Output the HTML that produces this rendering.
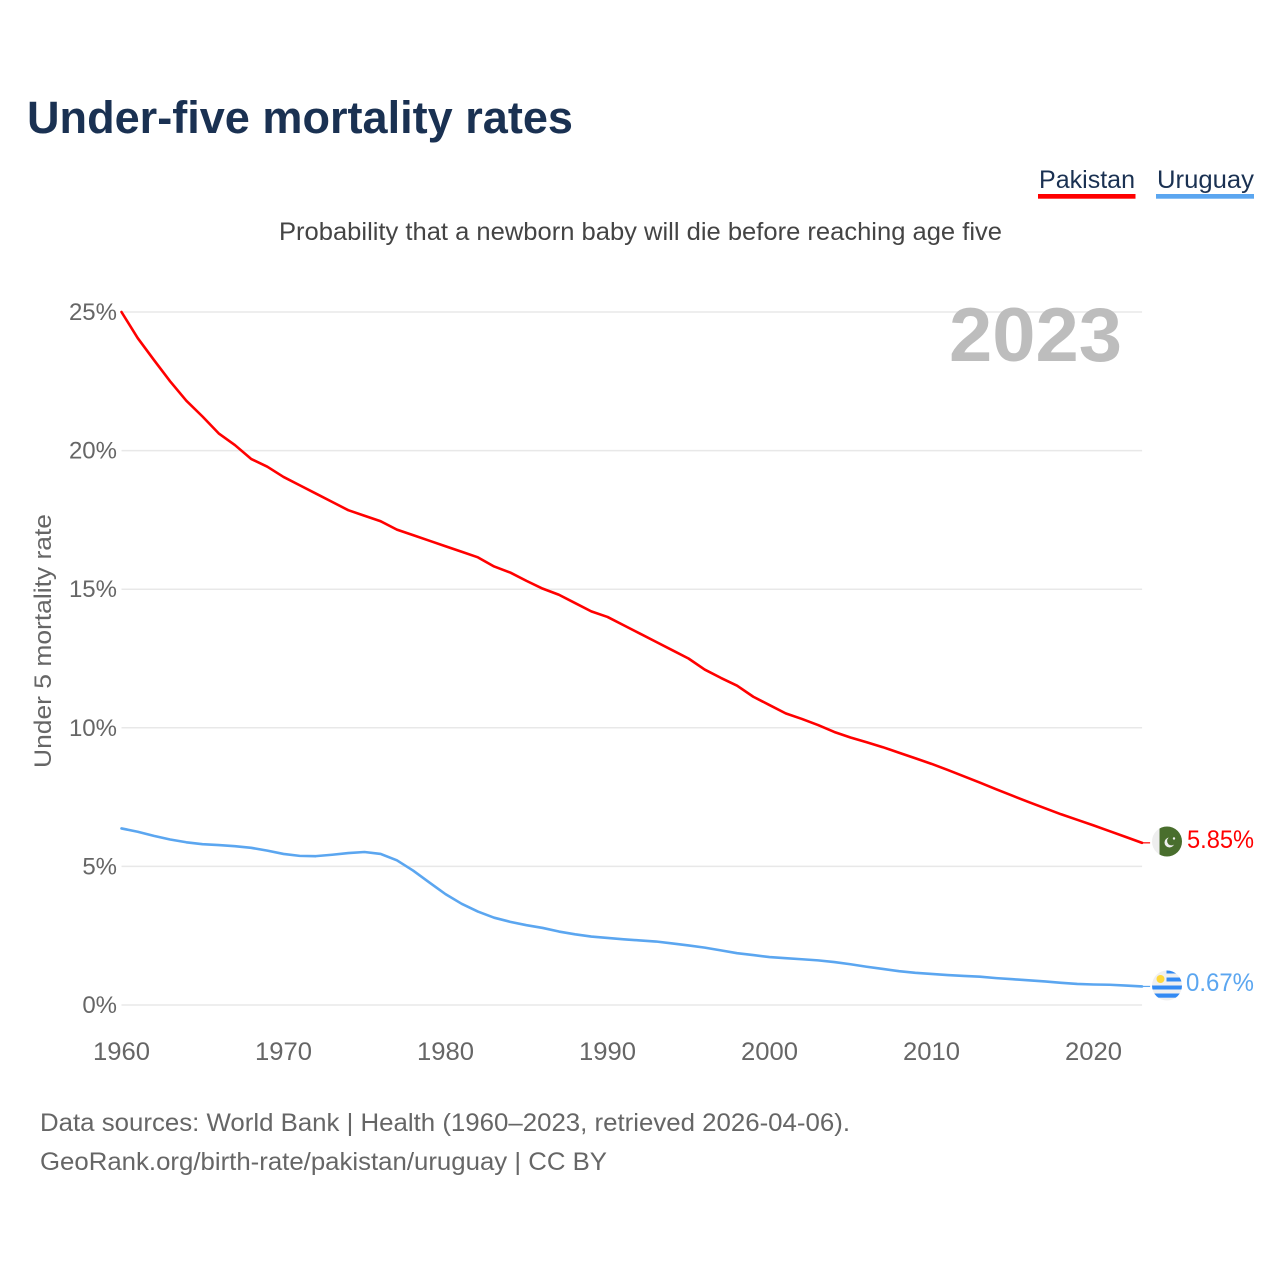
<!DOCTYPE html>
<html lang="en">
<head>
<meta charset="utf-8">
<title>Under-five mortality rates</title>
<style>
html,body{margin:0;padding:0;background:#fff;}
svg{display:block;font-family:"Liberation Sans",sans-serif;}
</style>
</head>
<body>
<svg id="chart" xmlns="http://www.w3.org/2000/svg" width="1280" height="1280" viewBox="0 0 1280 1280">
  <defs>
    <clipPath id="pk-clip"><circle cx="1167" cy="841.5" r="15"/></clipPath>
    <clipPath id="uy-clip"><circle cx="1167" cy="985.5" r="15"/></clipPath>
  </defs>
  <rect width="1280" height="1280" fill="#fff"/>
  <text x="27" y="133" font-size="45" font-weight="700" fill="#1a3152" textLength="546" lengthAdjust="spacingAndGlyphs">Under-five mortality rates</text>

  <g>
    <text x="1039" y="188" font-size="25" fill="#1a3152" textLength="96" lengthAdjust="spacingAndGlyphs">Pakistan</text>
    <rect x="1038" y="194" width="97.5" height="4.7" fill="#ff0000"/>
  </g>
  <g>
    <text x="1157" y="188" font-size="25" fill="#1a3152" textLength="97" lengthAdjust="spacingAndGlyphs">Uruguay</text>
    <rect x="1156" y="194" width="98" height="4.7" fill="#5ba6f0"/>
  </g>

  <text x="279" y="240" font-size="25" fill="#444" textLength="723" lengthAdjust="spacingAndGlyphs">Probability that a newborn baby will die before reaching age five</text>

  <g id="grid"></g>
  <g id="y-axis"></g>
  <g id="x-axis"></g>

  <text transform="translate(51,641) rotate(-90)" text-anchor="middle" font-size="24.5" fill="#666" textLength="254" lengthAdjust="spacingAndGlyphs">Under 5 mortality rate</text>

  <text x="949" y="361" font-size="76" font-weight="700" fill="#bdbdbd" textLength="173" lengthAdjust="spacingAndGlyphs">2023</text>

  <g id="series"></g>

  <g clip-path="url(#pk-clip)">
    <rect x="1152" y="826" width="30" height="31" fill="#eeeeee"/>
    <rect x="1159.5" y="826" width="23" height="31" fill="#496e2d"/>
    <circle cx="1169.5" cy="842.5" r="5" fill="#eeeeee"/>
    <circle cx="1171.5" cy="841" r="4.4" fill="#496e2d"/>
    <circle cx="1174" cy="838.5" r="1.2" fill="#eeeeee"/>
  </g>
  <g clip-path="url(#uy-clip)">
    <rect x="1152" y="970" width="30" height="31" fill="#f0f0f0"/>
    <rect x="1166.5" y="970" width="16" height="3.5" fill="#338af3"/>
    <rect x="1166.5" y="977.5" width="16" height="4" fill="#338af3"/>
    <rect x="1152" y="985.5" width="30" height="4" fill="#338af3"/>
    <rect x="1152" y="993.5" width="30" height="4.2" fill="#338af3"/>
    <circle cx="1160.5" cy="979" r="4" fill="#ffd93b"/>
  </g>

  <text x="1187" y="848" font-size="25" fill="#ff0000" textLength="67" lengthAdjust="spacingAndGlyphs">5.85%</text>
  <text x="1186" y="991" font-size="25" fill="#5ba6f0" textLength="68" lengthAdjust="spacingAndGlyphs">0.67%</text>

  <text x="40" y="1131" font-size="25" fill="#666" textLength="810" lengthAdjust="spacingAndGlyphs">Data sources: World Bank | Health (1960–2023, retrieved 2026-04-06).</text>
  <text x="40" y="1170" font-size="25" fill="#666" textLength="567" lengthAdjust="spacingAndGlyphs">GeoRank.org/birth-rate/pakistan/uruguay | CC BY</text>
</svg>
<script>
const years = [1960,1961,1962,1963,1964,1965,1966,1967,1968,1969,1970,1971,1972,1973,1974,1975,1976,1977,1978,1979,1980,1981,1982,1983,1984,1985,1986,1987,1988,1989,1990,1991,1992,1993,1994,1995,1996,1997,1998,1999,2000,2001,2002,2003,2004,2005,2006,2007,2008,2009,2010,2011,2012,2013,2014,2015,2016,2017,2018,2019,2020,2021,2022,2023];
const pakistan = [25.0,24.06,23.27,22.5,21.8,21.23,20.62,20.2,19.7,19.42,19.05,18.75,18.45,18.15,17.85,17.65,17.45,17.15,16.95,16.75,16.55,16.35,16.15,15.82,15.6,15.3,15.02,14.8,14.5,14.2,14.0,13.7,13.4,13.1,12.8,12.5,12.1,11.8,11.52,11.12,10.82,10.52,10.32,10.1,9.85,9.65,9.48,9.3,9.1,8.9,8.7,8.48,8.25,8.02,7.78,7.55,7.32,7.1,6.88,6.68,6.48,6.27,6.06,5.85];
const uruguay = [6.37,6.25,6.1,5.97,5.87,5.8,5.77,5.73,5.67,5.57,5.45,5.38,5.37,5.42,5.48,5.52,5.45,5.22,4.85,4.42,4.0,3.65,3.37,3.15,3.0,2.88,2.78,2.65,2.55,2.47,2.42,2.37,2.33,2.29,2.22,2.15,2.07,1.97,1.87,1.8,1.73,1.69,1.65,1.61,1.55,1.47,1.38,1.3,1.22,1.16,1.12,1.08,1.05,1.02,0.97,0.93,0.89,0.85,0.8,0.76,0.74,0.73,0.7,0.67];
const yTicks = [0,5,10,15,20,25];
const yTickLabels = ["0%","5%","10%","15%","20%","25%"];
const xTicks = [1960,1970,1980,1990,2000,2010,2020];
const xTickLabels = ["1960","1970","1980","1990","2000","2010","2020"];

const NS = 'http://www.w3.org/2000/svg';
function xScale(year){ return 121.5 + (year - 1960) * 16.2; }
function yScale(pct){ return 1005 - pct * 27.72; }
function make(tag, parent, attrs){
  const el = document.createElementNS(NS, tag);
  for (const k in attrs) el.setAttribute(k, attrs[k]);
  parent.appendChild(el);
  return el;
}

const grid = document.getElementById('grid');
const yAxis = document.getElementById('y-axis');
const xAxis = document.getElementById('x-axis');
const seriesGroup = document.getElementById('series');

yTicks.forEach(function(t, i){
  const line = make('line', grid, {x1: xScale(1960), x2: xScale(2023), y1: yScale(t), y2: yScale(t), stroke: '#e8e8e8', 'stroke-width': 1.5});
  
  
  const label = make('text', yAxis, {x: 117, y: yScale(t) + 8, 'text-anchor': 'end', 'font-size': 24, fill: '#666'});
  
  
  label.textContent = yTickLabels[i];
});

xTicks.forEach(function(t, i){
  const label = make('text', xAxis, {x: xScale(t), y: 1060, 'text-anchor': 'middle', 'font-size': 25, fill: '#666', textLength: 57, lengthAdjust: 'spacingAndGlyphs'});
  
  
  label.textContent = xTickLabels[i];
});

function drawSeries(values, color, name){
  const points = values.map(function(v, i){ return xScale(years[i]).toFixed(2) + ',' + yScale(v).toFixed(2); });
  const lastY = yScale(values[values.length - 1]);
  const line = make('polyline', seriesGroup, {points: points.join(' '), fill: 'none', stroke: color, 'stroke-width': 2.6, 'stroke-linejoin': 'round', 'stroke-linecap': 'round'});
  
  
  const connector = make('line', seriesGroup, {x1: xScale(2023), x2: xScale(2023) + 8, y1: lastY, y2: lastY, stroke: color, 'stroke-width': 1.2});
  
  
}
drawSeries(pakistan, '#ff0000', 'pakistan');
drawSeries(uruguay, '#5ba6f0', 'uruguay');
</script>
</body>
</html>
